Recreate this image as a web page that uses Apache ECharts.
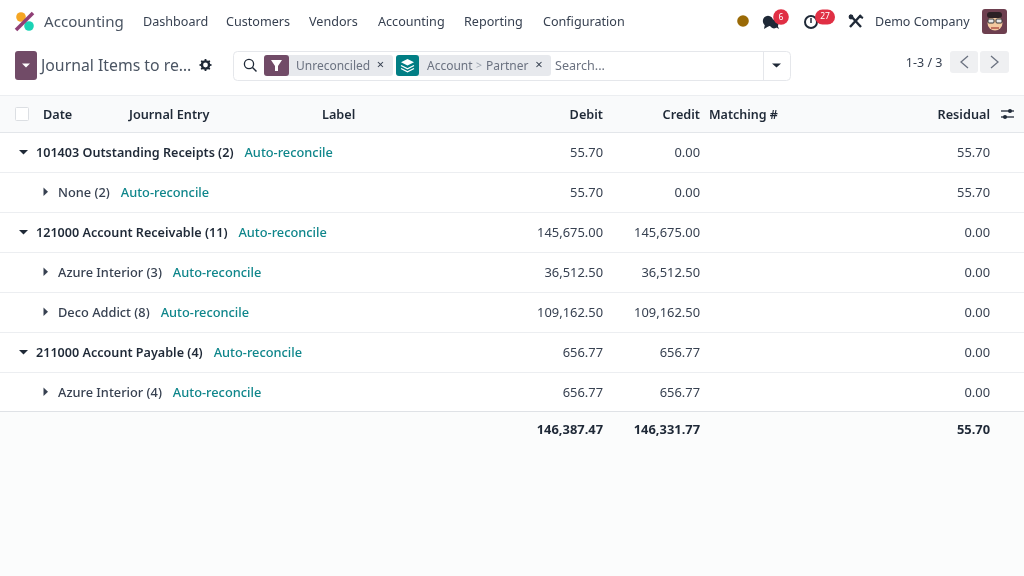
<!DOCTYPE html>
<html><head><meta charset="utf-8">
<style>html,body{margin:0;padding:0;background:#fff}#c{width:1024px;height:576px}</style>
<script src="https://cdn.jsdelivr.net/npm/echarts@6/dist/echarts.min.js"></script></head>
<body><div id="c"></div>
<script>
const menuLabels=['Dashboard','Customers','Vendors','Accounting','Reporting','Configuration'];
const headerLabels=['Date','Journal Entry','Label','Debit','Credit','Matching #','Residual'];
const rowLabels=['101403 Outstanding Receipts (2)','None (2)','121000 Account Receivable (11)','Azure Interior (3)','Deco Addict (8)','211000 Account Payable (4)','Azure Interior (4)'];
const rowLevels=[0,1,0,1,1,0,1];
const debitValues=[55.70,55.70,145675.00,36512.50,109162.50,656.77,656.77];
const creditValues=[0.00,0.00,145675.00,36512.50,109162.50,656.77,656.77];
const residualValues=[55.70,55.70,0.00,0.00,0.00,0.00,0.00];
const totalDebit=146387.47, totalCredit=146331.77, totalResidual=55.70;
const linkLabel='Auto-reconcile';

const FF='"Noto Sans",sans-serif';
const fmt=v=>v.toLocaleString('en-US',{minimumFractionDigits:2,maximumFractionDigits:2});
const INK='#374151', DARK='#1f2937', TEAL='#0f868b', PLUM='#714b67', GREY='#6b7280';
const canvas=document.createElement('canvas').getContext('2d');

const G=[];
const T=(x,y,text,o={})=>G.push({type:'text',x,y,silent:true,z:o.z||5,style:{text,fill:o.c||INK,font:(o.w||400)+' '+(o.s||13)+'px '+FF,textAlign:o.a||'left',textVerticalAlign:'middle'}});
const R=(x,y,w,h,fill,o={})=>G.push({type:'rect',silent:true,z:o.z||1,shape:{x,y,width:w,height:h,r:o.r||0},style:{fill:fill||'transparent',stroke:o.stroke,lineWidth:o.lw||1}});
const C=(cx,cy,r,fill,o={})=>G.push({type:'circle',silent:true,z:o.z||3,shape:{cx,cy,r},style:{fill:fill||'transparent',stroke:o.stroke,lineWidth:o.lw||1}});
const L=(x1,y1,x2,y2,stroke,lw=1,o={})=>G.push({type:'line',silent:true,z:o.z||3,shape:{x1,y1,x2,y2},style:{stroke,lineWidth:lw,lineCap:o.cap||'butt'}});
const P=(pts,fill,o={})=>G.push({type:'polygon',silent:true,z:o.z||4,shape:{points:pts},style:{fill}});
const PL=(pts,stroke,lw=1.5)=>G.push({type:'polyline',silent:true,z:4,shape:{points:pts},style:{stroke,lineWidth:lw,fill:'transparent'}});

// top bar
C(21,17,4.8,'#f5a623'); C(29,26,4.8,'#1ad3b5');
L(16,30,33,13,'#8f3f76',3.6,{z:4});
T(44,22.5,'Accounting',{s:15.1,c:'#4b5563'});
const menuX=[143,226,309,378,464,543];
menuLabels.forEach((m,i)=>T(menuX[i],22,m,{s:12.6,c:INK}));
C(743,21,5.8,'#9a6a06');
// chat icon
C(768,21,5.2,'#1f2937',{z:3}); C(774,24,4.4,'#1f2937',{z:3}); P([[765,24],[764,29],[769,26]],'#1f2937'); P([[774,26],[779,29],[777,24]],'#1f2937');
C(781,17,7.8,'#e02f44',{z:4}); T(781,17.5,'6',{s:8.5,c:'#fff',a:'center'});
// clock icon
C(811,22,6,null,{stroke:'#1f2937',lw:2}); L(811,18,811,23,'#1f2937',1.5);
R(815,9.5,20,15,'#e02f44',{r:7.5,z:4}); T(825,17,'27',{s:8.5,c:'#fff',a:'center'});
// tools icon
L(850,15,861,27,'#1f2937',2.4); L(861,15,850,27,'#1f2937',2.4); L(859,16,863,18,'#1f2937',2); C(851,17,2.4,'#1f2937');
T(875,22,'Demo Company',{s:12.5,c:INK});
// avatar
R(982,9,25,25,'#6d3f4f',{r:3});
C(995,23,7.5,'#f3c9a0',{z:3}); R(987,12,15,6,'#2b2024',{r:3,z:4});
R(988,19,6,4,'#e8e8e8',{r:1,stroke:'#333',z:4}); R(996,19,6,4,'#e8e8e8',{r:1,stroke:'#333',z:4});
L(991,28,999,28,'#a33a33',1.2,{z:5});

// control bar
R(15,51,22,29,PLUM,{r:3});
P([[22,63.5],[30,63.5],[26,67.5]],'#fff');
T(41,66,'Journal Items to re…',{s:15.8,c:'#4b5563'});
// gear
C(205.5,65,3.6,null,{stroke:'#1f2937',lw:2.4,z:4});
for(let i=0;i<8;i++){const a=i*Math.PI/4;L(205.5+4*Math.cos(a),65+4*Math.sin(a),205.5+6*Math.cos(a),65+6*Math.sin(a),'#1f2937',1.8,{z:4});}
// search box
R(233.5,51.5,557,29,'#fff',{r:4,stroke:'#e5e7eb'});
L(763.5,51,763.5,81,'#e5e7eb',1);
C(249,64,4.6,null,{stroke:'#1f2937',lw:1.3}); L(252.5,67.5,256.5,71.5,'#1f2937',1.5);
R(264,55,129,21,'#e7e9ed',{r:3,z:2});
R(264,55,25,21,PLUM,{r:3,z:3});
P([[271,60],[282,60],[278,66],[278,71],[275,71],[275,66]],'#fff');
T(296,66.5,'Unreconciled',{s:12,c:GREY});
T(380.5,65.5,'×',{s:13,c:INK,a:'center'});
R(396,55,155,21,'#e7e9ed',{r:3,z:2});
R(396,55,23,21,'#017e84',{r:3,z:3});
P([[407.5,59],[414,62.3],[407.5,65.5],[401,62.3]],'#fff');
PL([[401,65.5],[407.5,68.8],[414,65.5]],'#fff',1.4);
PL([[401,68.5],[407.5,71.8],[414,68.5]],'#fff',1.4);
T(427,66.5,'Account',{s:12,c:GREY});
T(479,66.5,'>',{s:10.5,c:'#9ca3af',a:'center'});
T(486,66.5,'Partner',{s:12,c:GREY});
T(539,65.5,'×',{s:13,c:INK,a:'center'});
T(555,66,'Search...',{s:12.6,c:'#6b7280'});
P([[772,63.5],[781,63.5],[776.5,67.5]],'#1f2937');
// pager
T(942.5,63,'1-3 / 3',{s:12.5,c:INK,a:'right'});
R(950,51,28,22,'#eff0f2',{r:3}); R(980,51,29,22,'#eff0f2',{r:3});
PL([[968,56],[961,62],[968,68]],'#6b7280',1.3); PL([[991,56],[998,62],[991,68]],'#6b7280',1.3);

// table header
R(0,96,1024,37,'#f9fafb');
L(0,95.5,1024,95.5,'#eceef1',1); L(0,132.5,1024,132.5,'#e3e6ea',1);
R(15.5,107.5,13,13,'#fff',{r:1,stroke:'#dcdfe3',z:3});
const headX=[43,129,322,603,700,709,990], headA=['left','left','left','right','right','left','right'];
headerLabels.forEach((h,i)=>T(headX[i],115,h,{w:600,s:i===5?12.5:12.7,c:DARK,a:headA[i]}));
// optional columns icon
L(1001,111,1014,111,'#1f2937',1.3); L(1001,117,1014,117,'#1f2937',1.3);
C(1010,111,2,'#1f2937'); C(1005,117,2,'#1f2937');

// footer
R(0,412,1024,164,'#fbfcfc',{z:0});
L(0,411.5,1024,411.5,'#dfe2e6',1);
T(603,430.5,fmt(totalDebit),{w:700,s:12.9,c:DARK,a:'right'});
T(700,430.5,fmt(totalCredit),{w:700,s:12.9,c:DARK,a:'right'});
T(990,430.5,fmt(totalResidual),{w:700,s:12.9,c:DARK,a:'right'});

// Table body: category axis gives the rows, value axis the column pixels.
const colDebit=603,colCredit=700,colResidual=990;
const rowIdx=rowLabels.map((_,i)=>i);
function renderRow(params,api){
  const i=api.value(0);const yb=api.coord([0,i])[1];const yc=yb+1.5;const x=v=>api.coord([v,i])[0];
  const lvl=rowLevels[i],bold=lvl===0;
  const ch=[];
  const tx=(px,t,o={})=>ch.push({type:'text',x:x(px),y:yc,style:{text:t,fill:o.c||INK,font:(o.w||400)+' '+(o.s||12.9)+'px '+FF,textAlign:o.a||'left',textVerticalAlign:'middle'}});
  if(bold) ch.push({type:'polygon',shape:{points:[[x(19),yb-2],[x(28),yb-2],[x(23.5),yb+2.5]]},style:{fill:'#1f2937'}});
  else ch.push({type:'polygon',shape:{points:[[x(43.5),yb-4.5],[x(43.5),yb+4],[x(48),yb-.2]]},style:{fill:'#374151'}});
  const sx=bold?36:58, lw=bold?600:500, ls=bold?12.6:12.8;
  tx(sx,rowLabels[i],{w:lw,s:ls,c:bold?DARK:INK});
  canvas.font=lw+' '+ls+'px '+FF;
  tx(sx+canvas.measureText(rowLabels[i]).width+11,linkLabel,{w:500,c:TEAL,s:12.8});
  tx(colDebit,fmt(debitValues[i]),{a:'right'});
  tx(colCredit,fmt(creditValues[i]),{a:'right'});
  tx(colResidual,fmt(residualValues[i]),{a:'right'});
  return {type:'group',children:ch};
}
const chart=echarts.init(document.getElementById('c'),null,{renderer:'canvas'});
chart.setOption({
  animation:false,backgroundColor:'#fff',
  grid:{left:0,right:0,top:132,height:280},
  xAxis:{type:'value',min:0,max:1024,show:false},
  yAxis:{type:'category',inverse:true,data:rowLabels,axisLabel:{show:false},axisTick:{show:false},axisLine:{show:false},
    splitLine:{show:true,lineStyle:{color:'#eceef1',width:1}}},
  series:[{type:'custom',coordinateSystem:'cartesian2d',data:rowIdx.map(i=>[i]),encode:{y:0},renderItem:renderRow,silent:true,z:6}],
  graphic:{elements:G}
});
</script></body></html>
